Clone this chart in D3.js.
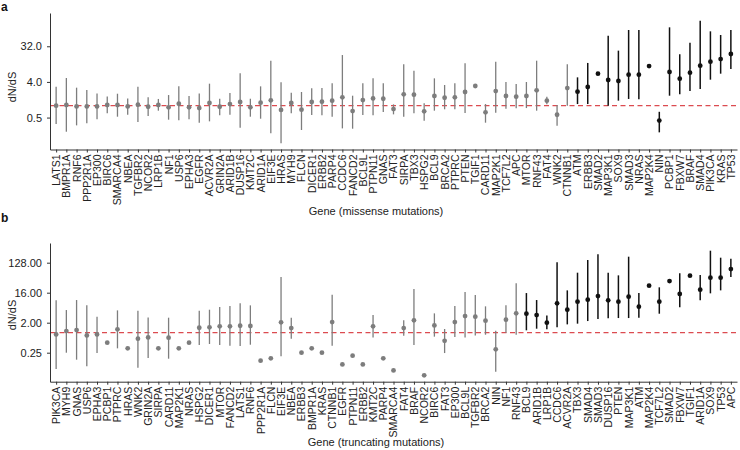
<!DOCTYPE html>
<html><head><meta charset="utf-8">
<script src="https://cdn.jsdelivr.net/npm/d3@7"></script>
<style>body{margin:0;background:#fff}text{font-family:"Liberation Sans",Arial,sans-serif}</style>
</head><body><svg id="c" width="740" height="450"></svg>
<script>
// ---------- Panel a: missense ----------
const genesA = ["LATS1","BMPR1A","RNF6","PPP2R1A","EP300","BIRC6","SMARCA4","NBEA","TGFBR2","NCOR2","LRP1B","NF1","USP6","EPHA3","EGFR","ACVR2A","GRIN2A","ARID1B","DUSP16","KMT2C","ARID1A","EIF3E","HRAS","MYH9","FLCN","DICER1","ERBB2","PARP4","CCDC6","FANCD2","BCL9L","PTPN11","GNAS","FAT3","SIRPA","TBX3","HSPG2","BCL9","BRCA2","PTPRC","PTEN","TGIF1","CARD11","MAP2K1","TCF7L2","APC","MTOR","RNF43","FAT4","WNK2","CTNNB1","ATM","ERBB3","SMAD2","MAP3K1","SOX9","SMAD3","NRAS","MAP2K4","NIN","PCBP1","FBXW7","BRAF","SMAD4","PIK3CA","KRAS","TP53"];
const dndsA = [1.00,1.04,0.96,0.96,0.96,1.04,1.04,0.96,1.06,0.94,1.04,0.91,1.12,0.91,0.87,1.17,0.94,1.10,1.24,0.91,1.19,1.37,0.78,1.17,0.79,1.24,1.26,1.34,1.63,0.73,1.39,1.53,1.50,0.82,1.94,1.90,0.72,1.76,1.59,1.63,2.22,3.15,0.68,2.35,1.76,1.69,1.76,2.45,1.34,0.59,2.80,2.26,2.97,6.47,4.47,4.22,6.10,6.10,10.1,0.42,7.13,4.83,6.86,10.3,13.0,15.2,20.4];
const lowA = [0.343,0.219,0.317,0.357,0.451,0.639,0.526,0.591,0.386,0.547,0.747,0.442,0.425,0.451,0.371,0.401,0.569,0.591,0.277,0.526,0.468,0.199,0.111,0.639,0.242,0.580,0.569,0.526,0.266,0.261,0.580,0.569,0.691,0.603,0.526,0.639,0.417,0.747,0.81,0.81,0.65,null,0.371,0.665,0.84,0.86,0.87,0.747,1.08,0.311,1.00,1.10,1.10,null,1.00,1.34,1.48,1.45,null,0.211,1.79,1.94,2.35,2.64,4.56,6.47,8.49];
const highA = [3.03,5.02,2.86,2.49,2.05,1.72,2.01,1.53,3.03,1.63,1.48,1.86,3.09,1.76,2.05,3.61,1.50,2.09,6.60,1.50,3.09,13.8,3.90,2.14,2.22,2.75,2.80,3.68,19.2,1.79,3.68,4.93,3.68,1.08,11.2,7.71,1.15,4.93,3.34,3.68,11.8,null,1.10,13.0,3.98,3.54,3.98,13.8,1.69,1.04,11.2,5.22,12.1,null,59.4,24.8,82.7,82.7,null,0.70,96.6,20.0,39.5,142.6,76.5,61.8,82.7];
const sigGenesA = ["ATM","ERBB3","SMAD2","MAP3K1","SOX9","SMAD3","NRAS","MAP2K4","NIN","PCBP1","FBXW7","BRAF","SMAD4","PIK3CA","KRAS","TP53"];
const ticksA = [0.5, 4, 32];

// ---------- Panel b: truncating ----------
const genesB = ["PIK3CA","MYH9","GNAS","USP6","EPHA3","PCBP1","PTPRC","HRAS","WNK2","GRIN2A","SIRPA","CARD11","MAP2K1","NRAS","HSPG2","DICER1","MTOR","FANCD2","LATS1","RNF6","PPP2R1A","FLCN","EIF3E","NBEA","ERBB3","BMPR1A","KRAS","CTNNB1","EGFR","PTPN11","ERBB2","KMT2C","PARP4","SMARCA4","FAT4","BRAF","NCOR2","BIRC6","FAT3","EP300","BCL9L","TGFBR2","BRCA2","NIN","NF1","RNF43","BCL9","ARID1B","LRP1B","CCDC6","ACVR2A","TBX3","SMAD4","SMAD3","DUSP16","PTEN","MAP3K1","ATM","MAP2K4","TCF7L2","SMAD2","FBXW7","TGIF1","ARID1A","SOX9","TP53","APC"];
const dndsB = [0.89,1.12,1.20,0.83,0.89,0.50,1.26,0.338,0.66,0.72,0.338,0.71,0.338,0.50,1.41,1.45,1.55,1.55,1.62,1.59,0.144,0.169,2.05,1.38,0.25,0.338,0.25,2.09,0.111,0.203,0.111,1.55,0.169,0.073,1.38,2.35,0.052,1.66,0.57,2.09,3.17,3.03,2.30,0.315,2.46,3.82,3.73,3.40,2.0,7.64,4.92,8.57,9.85,12.7,9.40,8.57,12.1,6.06,26.0,8.57,35.9,14.6,52.0,19.7,45.3,45.3,82.5];
const lowB = [0.081,0.25,0.154,0.097,0.244,null,0.338,null,0.088,0.173,null,0.165,null,null,0.425,0.456,0.425,0.406,0.397,0.435,null,null,0.194,0.66,null,null,null,0.406,null,null,null,0.72,null,null,0.81,0.425,null,0.76,0.244,0.74,0.72,0.83,0.87,0.067,1.00,0.87,1.18,1.32,1.26,1.45,1.78,1.87,2.24,2.58,2.70,2.76,2.76,2.83,null,3.73,null,5.79,null,9.40,15.3,18.8,47.4];
const highB = [9.40,4.81,9.62,6.65,3.03,null,4.70,null,4.60,2.89,null,2.83,null,null,4.60,4.92,5.92,6.35,7.64,6.65,null,null,47.4,2.83,null,null,null,13.9,null,null,null,3.40,null,null,2.35,20.6,null,3.82,1.29,6.35,16.8,13.6,6.21,1.15,6.65,30.6,15.6,9.62,3.32,131,18.8,64.0,154,228,64.0,53.2,194,15.6,null,23.2,null,61.1,null,54.4,294,181,169];
const sigGenesB = ["BCL9","ARID1B","LRP1B","CCDC6","ACVR2A","TBX3","SMAD4","SMAD3","DUSP16","PTEN","MAP3K1","ATM","MAP2K4","TCF7L2","SMAD2","FBXW7","TGIF1","ARID1A","SOX9","TP53","APC"];
const ticksB = [0.25, 2, 16, 128];

const svg = d3.select("#c");
const GRAY = "#7d7d7d", BLACK = "#111", RED = "#dc4b50";

function panel(o){
  const g = svg.append("g");
  const x = d3.scalePoint().domain(o.genes).range([50, 737]).padding(0.6);
  const y = d3.scaleLog().base(2).domain(o.domain).range([o.bottom, o.top]);
  const rows = o.genes.map((gn,i)=>({gene:gn, v:o.dnds[i], lo:o.low[i], hi:o.high[i], sig:o.sig.includes(gn)}));

  // x axis
  const xa = g.append("g").attr("transform",`translate(0,${o.bottom})`)
    .call(d3.axisBottom(x).tickSize(3).tickSizeOuter(0));
  xa.select(".domain").attr("stroke","#333");
  xa.selectAll(".tick line").attr("stroke","#333");
  xa.selectAll("text").attr("transform","rotate(-90)").attr("x",-5).attr("y",0)
    .attr("dy","0.33em").style("text-anchor","end").attr("font-size",10.5).attr("fill","#222");

  // y axis
  const ya = g.append("g").attr("transform","translate(50,0)")
    .call(d3.axisLeft(y).tickValues(o.ticks).tickFormat(d3.format(o.fmt)).tickSize(3).tickPadding(5).tickSizeOuter(0));
  ya.select(".domain").attr("stroke","#333");
  ya.selectAll(".tick line").attr("stroke","#333");
  ya.selectAll("text").attr("font-size",11).attr("fill","#222");

  // reference line at dN/dS = 1
  g.append("line").attr("x1",51).attr("x2",737).attr("y1",y(1)).attr("y2",y(1))
    .attr("stroke",RED).attr("stroke-width",1.3).attr("stroke-dasharray","5,3.5");

  // error bars
  g.selectAll("line.err").data(rows.filter(d=>d.lo!=null)).join("line").attr("class","err")
    .attr("x1",d=>x(d.gene)).attr("x2",d=>x(d.gene))
    .attr("y1",d=>y(d.lo)).attr("y2",d=>y(d.hi))
    .attr("stroke",d=>d.sig?BLACK:GRAY).attr("stroke-width",d=>d.sig?1.5:1.3);

  // points
  g.selectAll("circle").data(rows).join("circle")
    .attr("cx",d=>x(d.gene)).attr("cy",d=>y(d.v)).attr("r",2.4)
    .attr("fill",d=>d.sig?BLACK:GRAY);

  // titles
  g.append("text").attr("x",376).attr("y",o.xTitleY).attr("text-anchor","middle")
    .attr("font-size",11).attr("fill","#222").text(o.xTitle);
  g.append("text").attr("transform",`translate(16,${o.yTitleY}) rotate(-90)`).attr("text-anchor","middle")
    .attr("font-size",11).attr("fill","#222").text("dN/dS");
  g.append("text").attr("x",1).attr("y",o.letterY).attr("font-size",12).attr("font-weight","bold")
    .attr("fill","#111").text(o.letter);
}

panel({genes:genesA, dnds:dndsA, low:lowA, high:highA, sig:sigGenesA, ticks:ticksA, fmt:".1f",
  top:13, bottom:149.5, domain:[0.0776, 222.9], xTitle:"Gene (missense mutations)", xTitleY:215,
  yTitleY:87, letter:"a", letterY:11});
panel({genes:genesB, dnds:dndsB, low:lowB, high:highB, sig:sigGenesB, ticks:ticksB, fmt:".2f",
  top:243, bottom:381.7, domain:[0.0335, 501], xTitle:"Gene (truncating mutations)", xTitleY:445.5,
  yTitleY:315, letter:"b", letterY:222});
</script></body></html>
